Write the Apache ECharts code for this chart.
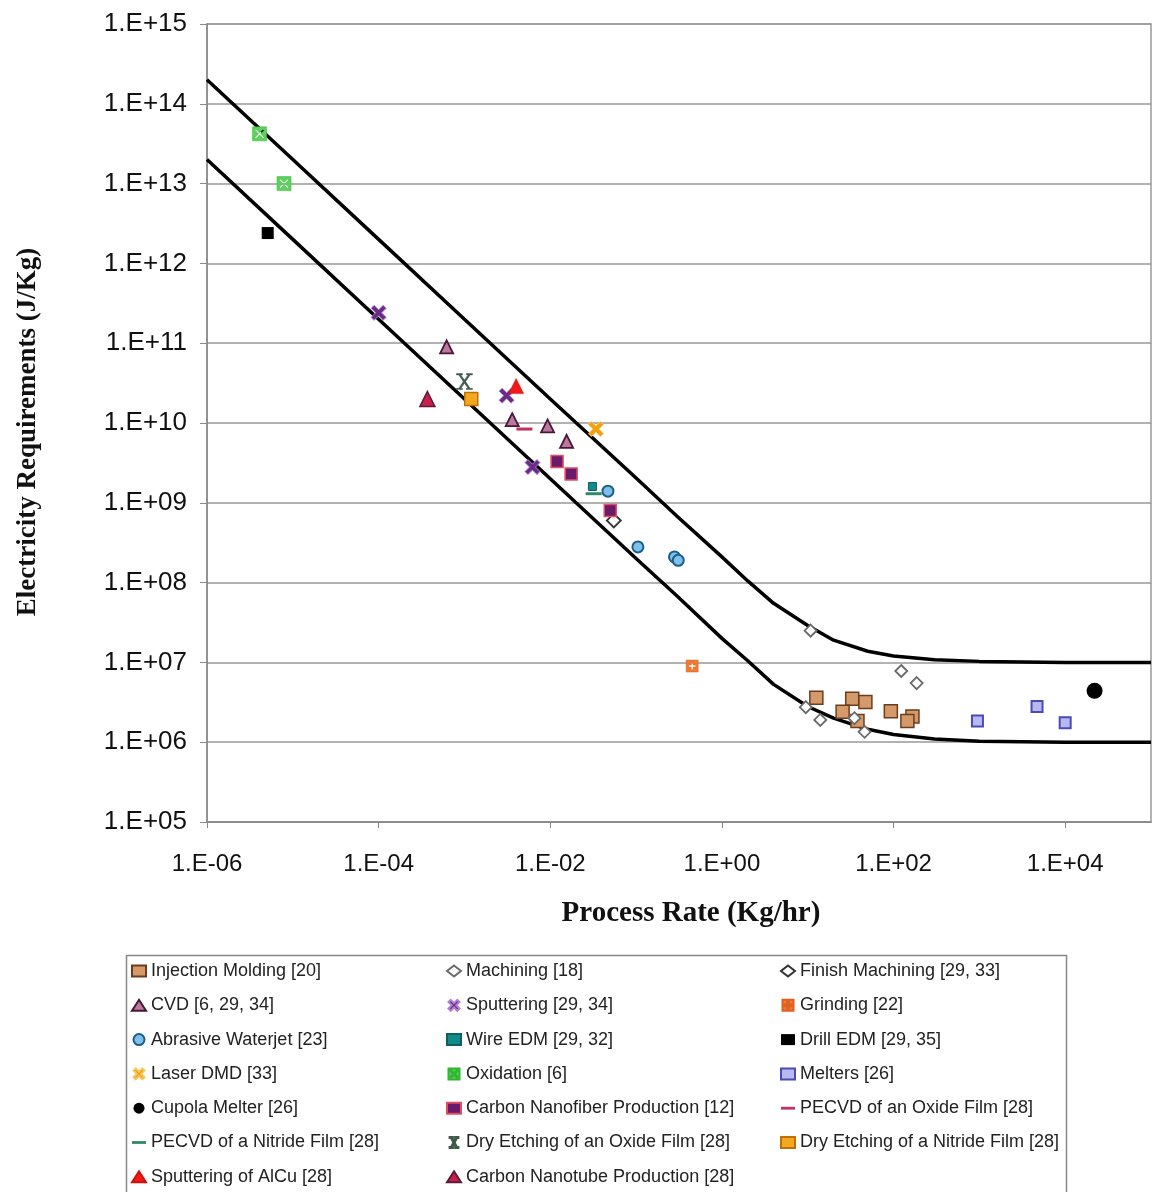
<!DOCTYPE html>
<html><head><meta charset="utf-8">
<script src="https://cdn.jsdelivr.net/npm/echarts@6/dist/echarts.min.js"></script>
<style>html,body{margin:0;padding:0;background:#fff}#c{width:1154px;height:1192px}</style>
</head><body><div id="c"></div>
<script>
// ---- Data ----
const curveRate = [1e-6, 1e-5, 1e-4, 1e-3, 1e-2, 1e-1, 0.3, 1, 2, 4, 10, 20, 50, 100, 300, 1000, 1e4, 1e5];
const upperE    = [2e14, 2e13, 2e12, 2e11, 2e10, 2.05e9, 6.8e8, 2.1e8, 1.05e8, 5.5e7, 2.9e7, 1.9e7, 1.38e7, 1.2e7, 1.08e7, 1.03e7, 1e7, 1e7];
const lowerE    = [2e13, 2e12, 2e11, 2e10, 2e9, 2e8, 6.8e7, 2e7, 1.05e7, 5.3e6, 2.8e6, 2e6, 1.45e6, 1.25e6, 1.1e6, 1.03e6, 1e6, 1e6];

const injRate = [12.6, 33, 47, 25.5, 38, 93, 166, 145];
const injE    = [3.6e6, 3.5e6, 3.2e6, 2.4e6, 1.85e6, 2.45e6, 2.1e6, 1.85e6];
const machRate = [10.8, 9.5, 14, 35, 46, 123, 186];
const machE    = [2.5e7, 2.75e6, 1.9e6, 2.0e6, 1.35e6, 7.8e6, 5.5e6];
const finRate = [0.055];
const finE    = [6e8];
const cvdRate = [6.2e-4, 3.6e-3, 9.3e-3, 1.55e-2];
const cvdE    = [9e10, 1.1e10, 9.2e9, 5.9e9];
const sputRate = [1e-4, 3.1e-3, 6.2e-3];
const sputE    = [2.4e11, 2.2e10, 2.8e9];
const grindRate = [0.45];
const grindE    = [9e6];
const awjRate = [4.7e-2, 0.105, 0.28, 0.31];
const awjE    = [1.4e9, 2.8e8, 2.1e8, 1.9e8];
const wedmRate = [3.1e-2];
const wedmE    = [1.6e9];
const dedmRate = [5.1e-6];
const dedmE    = [2.4e12];
const laserRate = [3.4e-2];
const laserE    = [8.4e9];
const oxRate = [4.1e-6, 7.9e-6];
const oxE    = [4.2e13, 1e13];
const meltRate = [950, 4700, 1e4];
const meltE    = [1.85e6, 2.8e6, 1.75e6];
const cupRate = [2.2e4];
const cupE    = [4.4e6];
const cnfRate = [1.2e-2, 1.75e-2, 5e-2];
const cnfE    = [3.3e9, 2.3e9, 8e8];
const pecOxRate = [5e-3];
const pecOxE    = [8.4e9];
const pecNiRate = [3.2e-2];
const pecNiE    = [1.3e9];
const deOxRate = [1e-3];
const deOxE    = [3.3e10];
const deNiRate = [1.2e-3];
const deNiE    = [2e10];
const alcuRate = [4e-3];
const alcuE    = [2.9e10];
const cntRate = [3.7e-4];
const cntE    = [2e10];

const legendCol1 = ['Injection Molding [20]', 'CVD [6, 29, 34]', 'Abrasive Waterjet [23]', 'Laser DMD [33]', 'Cupola Melter [26]', 'PECVD of a Nitride Film [28]', 'Sputtering of AlCu [28]'];
const legendCol2 = ['Machining [18]', 'Sputtering [29, 34]', 'Wire EDM [29, 32]', 'Oxidation [6]', 'Carbon Nanofiber Production [12]', 'Dry Etching of an Oxide Film [28]', 'Carbon Nanotube Production [28]'];
const legendCol3 = ['Finish Machining [29, 33]', 'Grinding [22]', 'Drill EDM [29, 35]', 'Melters [26]', 'PECVD of an Oxide Film [28]', 'Dry Etching of a Nitride Film [28]'];

// ---- symbol shapes (style only) ----
function xPts(a, b, t) {
  const c = (a + b) / 2;
  return [[a, a + t], [a + t, a], [c, c - t], [b - t, a], [b, a + t], [c + t, c], [b, b - t], [b - t, b], [c, c + t], [a + t, b], [a, b - t], [c - t, c]];
}
const ptsToPath = (p) => 'M' + p.map(q => q[0] + ',' + q[1]).join('L') + 'Z';
const X_PATH = 'path://' + ptsToPath(xPts(0, 10, 2));
const OX_PATH = 'path://M0,0H12V12H0Z' + ptsToPath(xPts(2, 10, 0.9).reverse());
const GRIND_PATH = 'path://M0,0H10V10H0ZM4.2,2V4.2H2V5.8H4.2V8H5.8V5.8H8V4.2H5.8V2Z';
const STAR_PATH = 'path://M1,0H4V0.8H3.2L5,4L6.8,0.8H6V0H9V0.8H7.8L5.6,5L7.8,9.2H9V10H6V9.2H6.8L5,6L3.2,9.2H4V10H1V9.2H2.2L4.4,5L2.2,0.8H1Z';
const DASH_PATH = 'path://M0,0H10V2H0Z';

const zip = (a, b) => a.map((v, i) => [v, b[i]]);
function sc(name, rate, e, symbol, size, fill, border, bw) {
  return {
    type: 'scatter', name: name, data: zip(rate, e),
    symbol: symbol, symbolSize: size, z: 3,
    itemStyle: { color: fill, borderColor: border, borderWidth: bw || 0, opacity: 1 },
    emphasis: { disabled: true }
  };
}

const expLabel = v => {
  const e = Math.round(Math.log10(v));
  return '1.E' + (e < 0 ? '-' : '+') + String(Math.abs(e)).padStart(2, '0');
};

const legendBase = {
  orient: 'vertical', top: 961, height: 240, padding: 0, itemGap: 14.3, itemWidth: 14, itemHeight: 11,
  textStyle: { fontFamily: 'Arial, Liberation Sans, sans-serif', fontSize: 18, color: '#222', lineHeight: 20 },
  selectedMode: false
};

const option = {
  animation: false,
  backgroundColor: '#fff',
  grid: { left: 207, right: 3, top: 24, bottom: 370, show: true, borderColor: '#999', borderWidth: 1.5, backgroundColor: 'transparent' },
  xAxis: {
    type: 'log', min: 1e-6, max: 1e5, interval: 2, logBase: 10,
    axisLine: { show: true, lineStyle: { color: '#888', width: 1.5 } },
    axisTick: { show: true, length: 6, lineStyle: { color: '#888' } },
    axisLabel: { formatter: expLabel, fontFamily: 'Arial, Liberation Sans, sans-serif', fontSize: 24, color: '#111', margin: 30, showMaxLabel: false },
    splitLine: { show: false }, minorTick: { show: false }
  },
  yAxis: {
    type: 'log', min: 1e5, max: 1e15, interval: 1, logBase: 10,
    axisLine: { show: true, lineStyle: { color: '#888', width: 1.5 } },
    axisTick: { show: true, length: 7, lineStyle: { color: '#888' } },
    axisLabel: { formatter: expLabel, fontFamily: 'Arial, Liberation Sans, sans-serif', fontSize: 26, color: '#111', margin: 20 },
    splitLine: { show: true, lineStyle: { color: '#999', width: 1.5 } }
  },
  legend: [
    Object.assign({}, legendBase, { left: 131, data: legendCol1 }),
    Object.assign({}, legendBase, { left: 446, data: legendCol2 }),
    Object.assign({}, legendBase, { left: 780, data: legendCol3 })
  ],
  graphic: [
    { type: 'rect', left: 124, top: 953, shape: { width: 940, height: 260 }, style: { fill: 'none', stroke: '#888', lineWidth: 1.5 }, z: -1 },
    { type: 'text', x: 28, y: 432, rotation: Math.PI / 2,
      style: { text: 'Electricity Requirements (J/Kg)', x: 0, y: 0, textAlign: 'center', textVerticalAlign: 'middle', fill: '#111',
        font: 'bold 27px "Liberation Serif", "Times New Roman", serif' } },
    { type: 'text', x: 691, y: 914,
      style: { text: 'Process Rate (Kg/hr)', x: 0, y: 0, textAlign: 'center', textVerticalAlign: 'middle', fill: '#111',
        font: 'bold 29px "Liberation Serif", "Times New Roman", serif' } }
  ],
  series: [
    { type: 'line', name: 'upper', data: zip(curveRate, upperE), showSymbol: false, symbol: 'none', smooth: false, lineStyle: { color: '#000', width: 3.5, join: 'round' }, z: 2, silent: true },
    { type: 'line', name: 'lower', data: zip(curveRate, lowerE), showSymbol: false, symbol: 'none', smooth: false, lineStyle: { color: '#000', width: 3.5, join: 'round' }, z: 2, silent: true },
    sc('Injection Molding [20]', injRate, injE, 'rect', 13, '#d49a6a', '#6b3d1e', 1.5),
    sc('Machining [18]', machRate, machE, 'diamond', 12, '#ffffff', '#6a6a6a', 1.8),
    sc('Finish Machining [29, 33]', finRate, finE, 'diamond', 14, '#ffffff', '#333333', 1.8),
    sc('CVD [6, 29, 34]', cvdRate, cvdE, 'triangle', 13, '#b97a9e', '#4a1638', 1.8),
    sc('Sputtering [29, 34]', sputRate, sputE, X_PATH, 15, '#6a2a8a', '#b080d0', 1),
    sc('Grinding [22]', grindRate, grindE, GRIND_PATH, 12, '#f07a30', '#e06020', 0.5),
    sc('Abrasive Waterjet [23]', awjRate, awjE, 'circle', 11, '#7fc0e8', '#1c5f8a', 2),
    sc('Wire EDM [29, 32]', wedmRate, wedmE, 'rect', 8, '#138a8a', '#0d6060', 1),
    sc('Drill EDM [29, 35]', dedmRate, dedmE, 'rect', 12, '#000000', '#000000', 0),
    sc('Laser DMD [33]', laserRate, laserE, X_PATH, 15, '#f0a010', '#f7c860', 1),
    sc('Oxidation [6]', oxRate, oxE, OX_PATH, 14, '#5ed05e', '#2fb82f', 0.5),
    sc('Melters [26]', meltRate, meltE, 'rect', 11, '#b8b8f0', '#4a4ab8', 2),
    sc('Cupola Melter [26]', cupRate, cupE, 'circle', 16, '#000000', '#000000', 0),
    sc('Carbon Nanofiber Production [12]', cnfRate, cnfE, 'rect', 12, '#6a1a6a', '#e05060', 1.5),
    sc('PECVD of an Oxide Film [28]', pecOxRate, pecOxE, DASH_PATH, [16, 3], '#c03060', '#c03060', 0),
    sc('PECVD of a Nitride Film [28]', pecNiRate, pecNiE, DASH_PATH, [16, 3], '#2f8a6a', '#2f8a6a', 0),
    sc('Dry Etching of an Oxide Film [28]', deOxRate, deOxE, STAR_PATH, 16, '#3f5a4a', '#3f5a4a', 0.5),
    sc('Dry Etching of a Nitride Film [28]', deNiRate, deNiE, 'rect', 13, '#f4a820', '#c07000', 1.5),
    sc('Sputtering of AlCu [28]', alcuRate, alcuE, 'triangle', 15, '#f01818', '#d01010', 0.5),
    sc('Carbon Nanotube Production [28]', cntRate, cntE, 'triangle', 15, '#c8204a', '#5a1a3a', 1.5)
  ]
};

const chart = echarts.init(document.getElementById('c'), null, { renderer: 'canvas' });
chart.setOption(option);
</script>
</body></html>
